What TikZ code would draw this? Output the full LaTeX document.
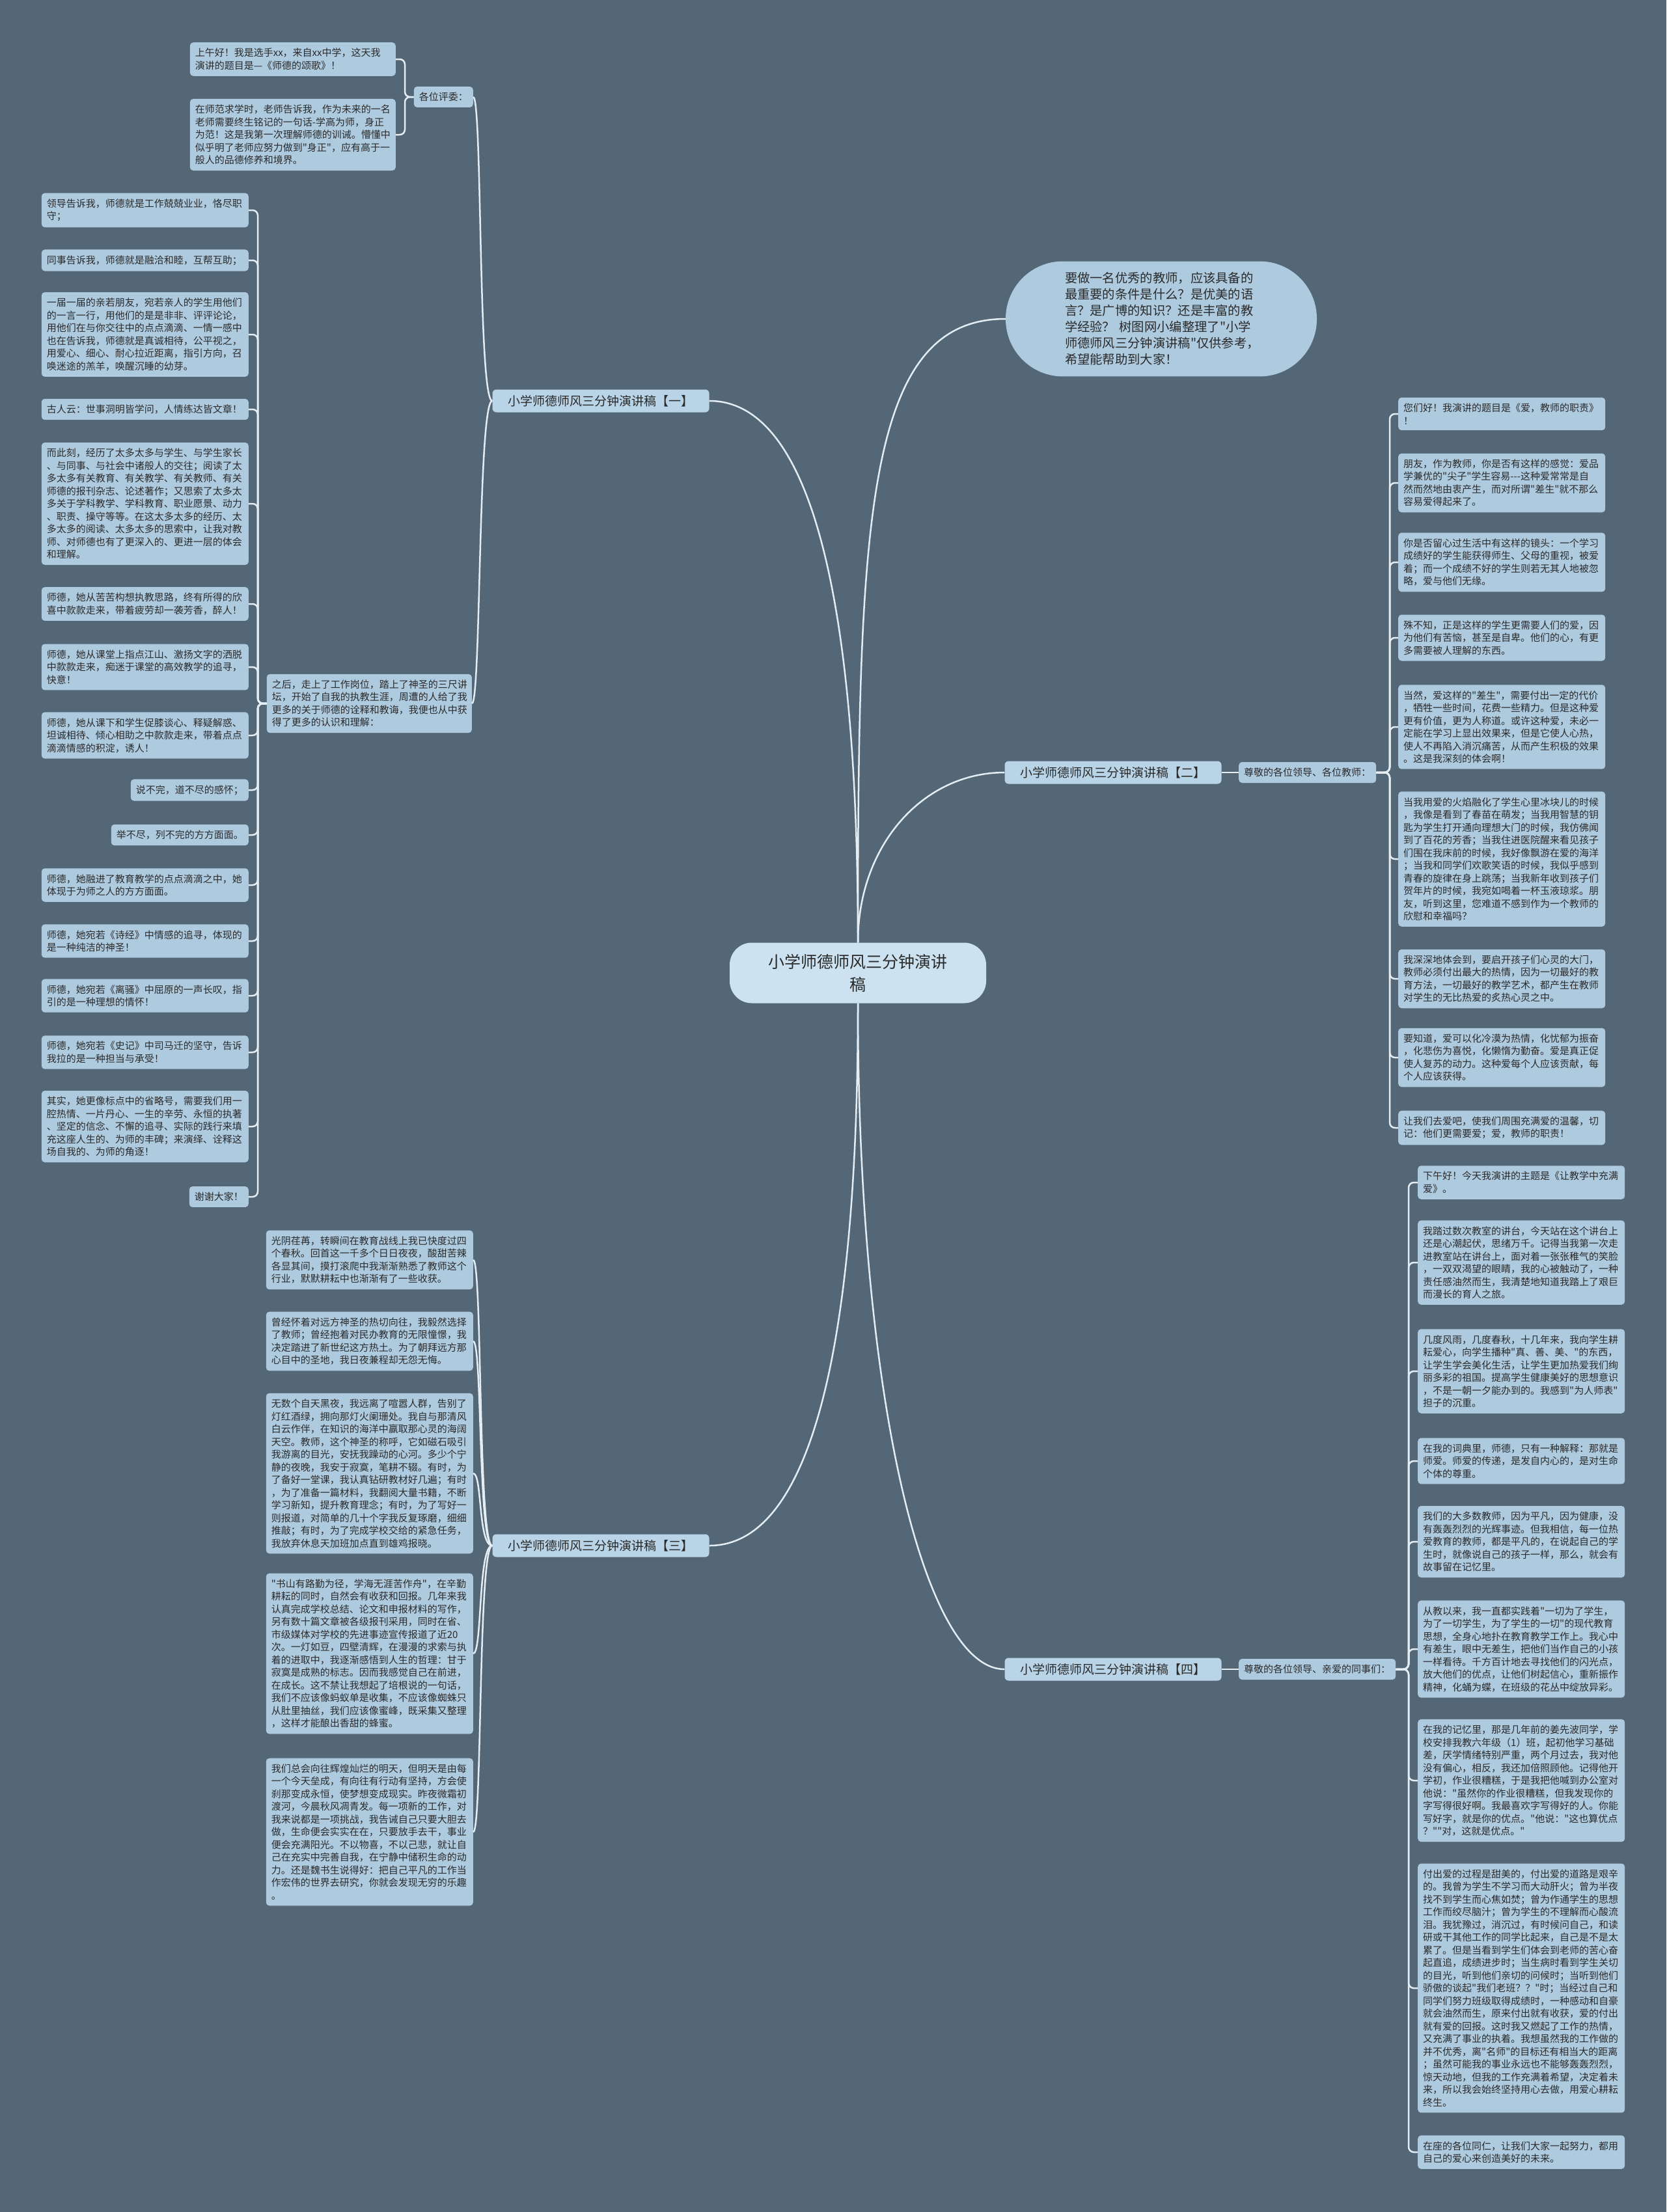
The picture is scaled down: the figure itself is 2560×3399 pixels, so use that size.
\documentclass[tikz,border=0pt]{standalone}
\usepackage{fontspec}
\setmainfont{Noto Sans CJK SC}[Ligatures=TeXOff]
\definecolor{bgc}{HTML}{546776}
\definecolor{leafc}{HTML}{AECADF}
\definecolor{branchc}{HTML}{B9D4E7}
\definecolor{centc}{HTML}{CCE2F0}
\definecolor{linec}{HTML}{E4EDF3}
\definecolor{txtc}{HTML}{2A2A2A}
\newcommand\fsleaf{\fontsize{15}{19.5}\selectfont}
\newcommand\fsbranch{\fontsize{19}{24}\selectfont}
\newcommand\fscall{\fontsize{19.3}{25}\selectfont}
\newcommand\fscent{\fontsize{25}{35}\selectfont}
\tikzset{
 leafbase/.style={fill=leafc, rounded corners=5pt, inner xsep=8pt, inner ysep=9pt, align=left, text=txtc, font=\fsleaf},
 leafw/.style={leafbase, text width=302pt},
 branchn/.style={fill=branchc, rounded corners=6pt, minimum width=333pt, minimum height=35pt, inner sep=4pt, text=txtc, font=\fsbranch},
 conn/.style={draw=linec, line width=2.5pt},
 brk/.style={draw=linec, line width=2.5pt, rounded corners=8pt},
}
\begin{document}
\begin{tikzpicture}[x=1pt,y=-1pt]
\fill[bgc] (0,0) rectangle (2560,3399);
\useasboundingbox (0,0) rectangle (2560,3399);

% center
\node[fill=centc, rounded corners=34pt, minimum width=394pt, minimum height=93pt, align=center, text=txtc, font=\fscent] (c) at (1318,1495) {小学师德师风三分钟演讲\\稿};

% callout
\node[fill=leafc, rounded corners=88pt, text width=296pt, inner xsep=91pt, inner ysep=17pt, align=left, text=txtc, font=\fscall] (cb) at (1784,490) {要做一名优秀的教师，应该具备的\\最重要的条件是什么？是优美的语\\言？是广博的知识？还是丰富的教\\学经验？~树图网小编整理了"小学\\师德师风三分钟演讲稿"仅供参考，\\希望能帮助到大家！};

% branches
\node[branchn] (b1) at (923,616) {小学师德师风三分钟演讲稿【一】};
\node[branchn] (b2) at (1710,1187) {小学师德师风三分钟演讲稿【二】};
\node[branchn] (b3) at (923,2375) {小学师德师风三分钟演讲稿【三】};
\node[branchn] (b4) at (1710,2565) {小学师德师风三分钟演讲稿【四】};

\draw[conn] (c.north) .. controls +(0,-650) and +(-215,0) .. (cb.west);
\draw[conn] (c.north) .. controls +(0,-150) and +(-125,0) .. (b2.west);
\draw[conn] (c.north) .. controls +(0,-550) and +(150,0) .. (b1.east);
\draw[conn] (c.south) .. controls +(0,550) and +(150,0) .. (b3.east);
\draw[conn] (c.south) .. controls +(0,600) and +(-125,0) .. (b4.west);

% ===== branch 1 =====
\node[leafbase, anchor=east] (pw) at (727,149) {各位评委：};
\node[leafbase, anchor=east, text width=300pt] (p1) at (608,91) {上午好！我是选手xx，来自xx中学，这天我\\演讲的题目是—《师德的颂歌》！};
\node[leafbase, anchor=east, text width=300pt] (p2) at (608,207) {在师范求学时，老师告诉我，作为未来的一名\\老师需要终生铭记的一句话-学高为师，身正\\为范！这是我第一次理解师德的训诫。懵懂中\\似乎明了老师应努力做到"身正"，应有高于一\\般人的品德修养和境界。};
\node[leafbase, anchor=east, text width=299pt] (zh) at (725,1081) {之后，走上了工作岗位，踏上了神圣的三尺讲\\坛，开始了自我的执教生涯，周遭的人给了我\\更多的关于师德的诠释和教诲，我便也从中获\\得了更多的认识和理解：};

\draw[conn] (b1.west) .. controls +(-22,0) and +(14,0) .. (pw.east);
\draw[conn] (b1.west) .. controls +(-22,0) and +(14,0) .. (zh.east);
\foreach \n in {p1,p2}{\draw[brk] (pw.west) -| ([xshift=14pt]\n.east) -- (\n.east);}

\node[leafw, anchor=east] (a1) at (382,323) {领导告诉我，师德就是工作兢兢业业，恪尽职\\守；};
\node[leafw, anchor=east] (a2) at (382,400) {同事告诉我，师德就是融洽和睦，互帮互助；};
\node[leafw, anchor=east] (a3) at (382,514) {一届一届的亲若朋友，宛若亲人的学生用他们\\的一言一行，用他们的是是非非、评评论论，\\用他们在与你交往中的点点滴滴、一情一感中\\也在告诉我，师德就是真诚相待，公平视之，\\用爱心、细心、耐心拉近距离，指引方向，召\\唤迷途的羔羊，唤醒沉睡的幼芽。};
\node[leafw, anchor=east] (a4) at (382,629) {古人云：世事洞明皆学问，人情练达皆文章！};
\node[leafw, anchor=east] (a5) at (382,774) {而此刻，经历了太多太多与学生、与学生家长\\、与同事、与社会中诸般人的交往；阅读了太\\多太多有关教育、有关教学、有关教师、有关\\师德的报刊杂志、论述著作；又思索了太多太\\多关于学科教学、学科教育、职业愿景、动力\\、职责、操守等等。在这太多太多的经历、太\\多太多的阅读、太多太多的思索中，让我对教\\师、对师德也有了更深入的、更进一层的体会\\和理解。};
\node[leafw, anchor=east] (a6) at (382,928) {师德，她从苦苦构想执教思路，终有所得的欣\\喜中款款走来，带着疲劳却一袭芳香，醉人！};
\node[leafw, anchor=east] (a7) at (382,1025) {师德，她从课堂上指点江山、激扬文字的洒脱\\中款款走来，痴迷于课堂的高效教学的追寻，\\快意！};
\node[leafw, anchor=east] (a8) at (382,1130) {师德，她从课下和学生促膝谈心、释疑解惑、\\坦诚相待、倾心相助之中款款走来，带着点点\\滴滴情感的积淀，诱人！};
\node[leafbase, anchor=east] (a9) at (382,1214) {说不完，道不尽的感怀；};
\node[leafbase, anchor=east] (a10) at (382,1283) {举不尽，列不完的方方面面。};
\node[leafw, anchor=east] (a11) at (382,1360) {师德，她融进了教育教学的点点滴滴之中，她\\体现于为师之人的方方面面。};
\node[leafw, anchor=east] (a12) at (382,1446) {师德，她宛若《诗经》中情感的追寻，体现的\\是一种纯洁的神圣！};
\node[leafw, anchor=east] (a13) at (382,1530) {师德，她宛若《离骚》中屈原的一声长叹，指\\引的是一种理想的情怀！};
\node[leafw, anchor=east] (a14) at (382,1617) {师德，她宛若《史记》中司马迁的坚守，告诉\\我拉的是一种担当与承受！};
\node[leafw, anchor=east] (a15) at (382,1731) {其实，她更像标点中的省略号，需要我们用一\\腔热情、一片丹心、一生的辛劳、永恒的执著\\、坚定的信念、不懈的追寻、实际的践行来填\\充这座人生的、为师的丰碑；来演绎、诠释这\\场自我的、为师的角逐！};
\node[leafbase, anchor=east] (a16) at (382,1839) {谢谢大家！};
\foreach \n in {a1,a2,a3,a4,a5,a6,a7,a8,a9,a10,a11,a12,a13,a14,a15,a16}{\draw[brk] (zh.west) -| ([xshift=14pt]\n.east) -- (\n.east);}

% ===== branch 3 =====
\node[leafw, anchor=east] (t1) at (727,1936) {光阴荏苒，转瞬间在教育战线上我已快度过四\\个春秋。回首这一千多个日日夜夜，酸甜苦辣\\各显其间，摸打滚爬中我渐渐熟悉了教师这个\\行业，默默耕耘中也渐渐有了一些收获。};
\node[leafw, anchor=east] (t2) at (727,2061) {曾经怀着对远方神圣的热切向往，我毅然选择\\了教师；曾经抱着对民办教育的无限憧憬，我\\决定踏进了新世纪这方热土。为了朝拜远方那\\心目中的圣地，我日夜兼程却无怨无悔。};
\node[leafw, anchor=east] (t3) at (727,2264) {无数个自天黑夜，我远离了喧嚣人群，告别了\\灯红酒绿，拥向那灯火阑珊处。我自与那清风\\白云作伴，在知识的海洋中赢取那心灵的海阔\\天空。教师，这个神圣的称呼，它如磁石吸引\\我游离的目光，安抚我躁动的心河。多少个宁\\静的夜晚，我安于寂寞，笔耕不辍。有时，为\\了备好一堂课，我认真钻研教材好几遍；有时\\，为了准备一篇材料，我翻阅大量书籍，不断\\学习新知，提升教育理念；有时，为了写好一\\则报道，对简单的几十个字我反复琢磨，细细\\推敲；有时，为了完成学校交给的紧急任务，\\我放弃休息天加班加点直到雄鸡报晓。};
\node[leafw, anchor=east] (t4) at (727,2541) {"书山有路勤为径，学海无涯苦作舟"，在辛勤\\耕耘的同时，自然会有收获和回报。几年来我\\认真完成学校总结、论文和申报材料的写作，\\另有数十篇文章被各级报刊采用，同时在省、\\市级媒体对学校的先进事迹宣传报道了近20\\次。一灯如豆，四壁清辉，在漫漫的求索与执\\着的进取中，我逐渐感悟到人生的哲理：甘于\\寂寞是成熟的标志。因而我感觉自己在前进，\\在成长。这不禁让我想起了培根说的一句话，\\我们不应该像蚂蚁单是收集，不应该像蜘蛛只\\从肚里抽丝，我们应该像蜜峰，既采集又整理\\，这样才能酿出香甜的蜂蜜。};
\node[leafw, anchor=east] (t5) at (727,2815) {我们总会向往辉煌灿烂的明天，但明天是由每\\一个今天垒成，有向往有行动有坚持，方会使\\刹那变成永恒，使梦想变成现实。昨夜微霜初\\渡河，今晨秋风凋青发。每一项新的工作，对\\我来说都是一项挑战，我告诫自己只要大胆去\\做，生命便会实实在在，只要放手去干，事业\\便会充满阳光。不以物喜，不以己悲，就让自\\己在充实中完善自我，在宁静中储积生命的动\\力。还是魏书生说得好：把自己平凡的工作当\\作宏伟的世界去研究，你就会发现无穷的乐趣\\。};
\foreach \n in {t1,t2,t3,t4,t5}{\draw[conn] (b3.west) .. controls +(-22,0) and +(14,0) .. (\n.east);}

% ===== branch 2 =====
\node[leafbase, anchor=west] (s1) at (1903,1187) {尊敬的各位领导、各位教师：};
\draw[conn] (b2.east) -- (s1.west);
\node[leafw, anchor=west] (r1) at (2148,636) {您们好！我演讲的题目是《爱，教师的职责》\\！};
\node[leafw, anchor=west] (r2) at (2148,742) {朋友，作为教师，你是否有这样的感觉：爱品\\学兼优的"尖子"学生容易---这种爱常常是自\\然而然地由衷产生，而对所谓"差生"就不那么\\容易爱得起来了。};
\node[leafw, anchor=west] (r3) at (2148,864) {你是否留心过生活中有这样的镜头：一个学习\\成绩好的学生能获得师生、父母的重视，被爱\\着；而一个成绩不好的学生则若无其人地被忽\\略，爱与他们无缘。};
\node[leafw, anchor=west] (r4) at (2148,980) {殊不知，正是这样的学生更需要人们的爱，因\\为他们有苦恼，甚至是自卑。他们的心，有更\\多需要被人理解的东西。};
\node[leafw, anchor=west] (r5) at (2148,1117) {当然，爱这样的"差生"，需要付出一定的代价\\，牺牲一些时间，花费一些精力。但是这种爱\\更有价值，更为人称道。或许这种爱，未必一\\定能在学习上显出效果来，但是它使人心热，\\使人不再陷入消沉痛苦，从而产生积极的效果\\。这是我深刻的体会啊！};
\node[leafw, anchor=west] (r6) at (2148,1320) {当我用爱的火焰融化了学生心里冰块儿的时候\\，我像是看到了春苗在萌发；当我用智慧的钥\\匙为学生打开通向理想大门的时候，我仿佛闻\\到了百花的芳香；当我住进医院醒来看见孩子\\们围在我床前的时候，我好像飘游在爱的海洋\\；当我和同学们欢歌笑语的时候，我似乎感到\\青春的旋律在身上跳荡；当我新年收到孩子们\\贺年片的时候，我宛如喝着一杯玉液琼浆。朋\\友，听到这里，您难道不感到作为一个教师的\\欣慰和幸福吗？};
\node[leafw, anchor=west] (r7) at (2148,1504) {我深深地体会到，要启开孩子们心灵的大门，\\教师必须付出最大的热情，因为一切最好的教\\育方法，一切最好的教学艺术，都产生在教师\\对学生的无比热爱的炙热心灵之中。};
\node[leafw, anchor=west] (r8) at (2148,1625) {要知道，爱可以化冷漠为热情，化忧郁为振奋\\，化悲伤为喜悦，化懒惰为勤奋。爱是真正促\\使人复苏的动力。这种爱每个人应该贡献，每\\个人应该获得。};
\node[leafw, anchor=west] (r9) at (2148,1733) {让我们去爱吧，使我们周围充满爱的温馨，切\\记：他们更需要爱；爱，教师的职责！};
\foreach \n in {r1,r2,r3,r4,r5,r6,r7,r8,r9}{\draw[brk] (s1.east) -| ([xshift=-13pt]\n.west) -- (\n.west);}

% ===== branch 4 =====
\node[leafbase, anchor=west] (s2) at (1903,2565) {尊敬的各位领导、亲爱的同事们：};
\draw[conn] (b4.east) -- (s2.west);
\node[leafw, anchor=west] (q1) at (2178,1817) {下午好！今天我演讲的主题是《让教学中充满\\爱》。};
\node[leafw, anchor=west] (q2) at (2178,1940) {我踏过数次教室的讲台，今天站在这个讲台上\\还是心潮起伏，思绪万千。记得当我第一次走\\进教室站在讲台上，面对着一张张稚气的笑脸\\，一双双渴望的眼睛，我的心被触动了，一种\\责任感油然而生，我清楚地知道我踏上了艰巨\\而漫长的育人之旅。};
\node[leafw, anchor=west] (q3) at (2178,2107) {几度风雨，几度春秋，十几年来，我向学生耕\\耘爱心，向学生播种"真、善、美、"的东西，\\让学生学会美化生活，让学生更加热爱我们绚\\丽多彩的祖国。提高学生健康美好的思想意识\\，不是一朝一夕能办到的。我感到"为人师表"\\担子的沉重。};
\node[leafw, anchor=west] (q4) at (2178,2245) {在我的词典里，师德，只有一种解释：那就是\\师爱。师爱的传递，是发自内心的，是对生命\\个体的尊重。};
\node[leafw, anchor=west] (q5) at (2178,2369) {我们的大多数教师，因为平凡，因为健康，没\\有轰轰烈烈的光辉事迹。但我相信，每一位热\\爱教育的教师，都是平凡的，在说起自己的学\\生时，就像说自己的孩子一样，那么，就会有\\故事留在记忆里。};
\node[leafw, anchor=west] (q6) at (2178,2534) {从教以来，我一直都实践着"一切为了学生，\\为了一切学生，为了学生的一切"的现代教育\\思想，全身心地扑在教育教学工作上。我心中\\有差生，眼中无差生，把他们当作自己的小孩\\一样看待。千方百计地去寻找他们的闪光点，\\放大他们的优点，让他们树起信心，重新振作\\精神，化蛹为蝶，在班级的花丛中绽放异彩。};
\node[leafw, anchor=west] (q7) at (2178,2736) {在我的记忆里，那是几年前的姜先波同学，学\\校安排我教六年级（1）班，起初他学习基础\\差，厌学情绪特别严重，两个月过去，我对他\\没有偏心，相反，我还加倍照顾他。记得他开\\学初，作业很糟糕，于是我把他喊到办公室对\\他说："虽然你的作业很糟糕，但我发现你的\\字写得很好啊。我最喜欢字写得好的人。你能\\写好字，就是你的优点。"他说："这也算优点\\？""对，这就是优点。"};
\node[leafw, anchor=west] (q8) at (2178,3055) {付出爱的过程是甜美的，付出爱的道路是艰辛\\的。我曾为学生不学习而大动肝火；曾为半夜\\找不到学生而心焦如焚；曾为作通学生的思想\\工作而绞尽脑汁；曾为学生的不理解而心酸流\\泪。我犹豫过，消沉过，有时候问自己，和读\\研或干其他工作的同学比起来，自己是不是太\\累了。但是当看到学生们体会到老师的苦心奋\\起直追，成绩进步时；当生病时看到学生关切\\的目光，听到他们亲切的问候时；当听到他们\\骄傲的谈起"我们老班？？"时；当经过自己和\\同学们努力班级取得成绩时，一种感动和自豪\\就会油然而生，原来付出就有收获，爱的付出\\就有爱的回报。这时我又燃起了工作的热情，\\又充满了事业的执着。我想虽然我的工作做的\\并不优秀，离"名师"的目标还有相当大的距离\\；虽然可能我的事业永远也不能够轰轰烈烈，\\惊天动地，但我的工作充满着希望，决定着未\\来，所以我会始终坚持用心去做，用爱心耕耘\\终生。};
\node[leafw, anchor=west] (q9) at (2178,3307) {在座的各位同仁，让我们大家一起努力，都用\\自己的爱心来创造美好的未来。};
\foreach \n in {q1,q2,q3,q4,q5,q6,q7,q8,q9}{\draw[brk] (s2.east) -| ([xshift=-14pt]\n.west) -- (\n.west);}
\end{tikzpicture}
\end{document}
